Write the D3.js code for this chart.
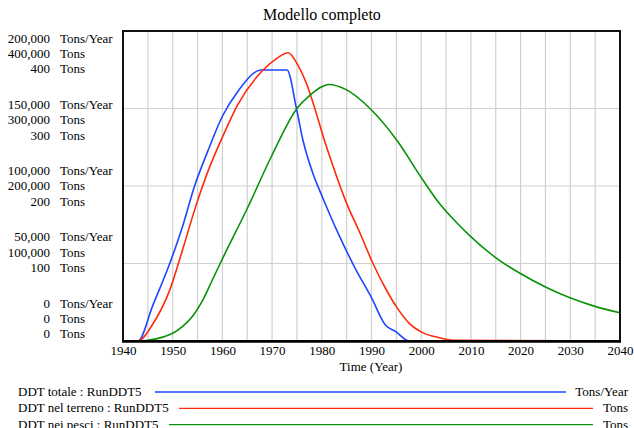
<!DOCTYPE html>
<html><head><meta charset="utf-8">
<script src="https://cdn.jsdelivr.net/npm/d3@7"></script>
<style>body{margin:0;background:#fff}svg{display:block}text{font-family:"Liberation Serif","Times New Roman",serif;fill:#000}</style>
</head><body><svg id="c" width="634" height="428"></svg>
<script>
const title = "Modello completo";
const xTicks = [1940,1950,1960,1970,1980,1990,2000,2010,2020,2030,2040];
const yLabelsTot = ["200,000","150,000","100,000","50,000","0"];
const yLabelsTer = ["400,000","300,000","200,000","100,000","0"];
const yLabelsPes = ["400","300","200","100","0"];

const yearsTot = [1940,1943,1946,1949.4,1952,1954.4,1957,1960,1963.1,1967.8,1973,1974.9,1976.2,1978.2,1980.1,1983.6,1986.9,1989.9,1992.8,1994.9,1997.6,2040];
const valTot   = [0,0,23000,50000,74000,100000,122000,145000,161000,174800,174800,150000,129700,108200,93100,67300,45800,28600,10300,6000,0,0];

const yearsTer = [1940,1943,1946,1949.3,1952,1954.7,1957.4,1960,1963.1,1967.8,1970.8,1973.2,1975.2,1976.9,1978.6,1980.3,1982.3,1985,1987.7,1990.3,1993,1995,1997.6,2000.3,2003.6,2007,2040];
const valTer   = [0,0,22000,64000,118000,175000,224000,263000,305000,347000,364000,372000,356000,332500,300000,263600,224900,177600,139000,100000,65800,44300,22800,10800,4300,800,0];

const yearsPes = [1940,1943,1945,1948,1950,1952,1954,1956,1958,1960,1965,1970,1975,1977.6,1980,1981.4,1985,1989.7,1995.1,2000.3,2003.6,2007.7,2009.6,2014.7,2019.7,2024.9,2029.8,2034.8,2040];
const valPes   = [0,0,1,5,10,19,32,52,79,106,171,240,300,317,328,331,324,300,259,208,178,149,137,109,88,70,56,45,36.5];

const legendNames = ["DDT totale : RunDDT5","DDT nel terreno : RunDDT5","DDT nei pesci : RunDDT5"];
const legendUnits = ["Tons/Year","Tons","Tons"];
const colors = ["#1e46ff","#ff2a0a","#089208"];

const svg = d3.select("#c");
const L=123, R=620, T=31, B=341;
const x = d3.scaleLinear().domain([1940,2040]).range([L,R]);
const yTot = d3.scaleLinear().domain([0,200000]).range([B,T]);
const yTer = d3.scaleLinear().domain([0,400000]).range([B,T]);
const yPes = d3.scaleLinear().domain([0,400]).range([B,T]);

svg.append("text").attr("x",322).attr("y",20).attr("text-anchor","middle").attr("font-size",16).text(title);

// grid
const g = svg.append("g");
g.selectAll("line.v").data(d3.range(1945,2040,5)).join("line")
 .attr("x1",d=>x(d)).attr("x2",d=>x(d)).attr("y1",T).attr("y2",B)
 .attr("stroke","#d0d0d0").attr("stroke-width",1.2);
g.selectAll("line.h").data([50000,100000,150000]).join("line")
 .attr("x1",L).attr("x2",R).attr("y1",d=>yTot(d)).attr("y2",d=>yTot(d))
 .attr("stroke","#d0d0d0").attr("stroke-width",1.2);

// lines
const series = [[yearsTot,valTot,yTot],[yearsTer,valTer,yTer],[yearsPes,valPes,yPes]];
series.forEach((s,i)=>{
  const pts = s[0].map((yr,j)=>[yr,s[1][j]]);
  const line = d3.line().x(d=>x(d[0])).y(d=>s[2](d[1])).curve(d3.curveMonotoneX);
  svg.append("path").attr("d",line(pts)).attr("fill","none").attr("stroke",colors[i]).attr("stroke-width",1.6);
});

// frame
svg.append("rect").attr("x",L).attr("y",T).attr("width",R-L).attr("height",B-T).attr("fill","none").attr("stroke","#111").attr("stroke-width",2);
svg.append("line").attr("x1",L-1).attr("x2",R+1).attr("y1",B+0.5).attr("y2",B+0.5).attr("stroke","#000").attr("stroke-width",2.5);

// y labels
const groupY = d3.scaleLinear().domain([0,4]).range([38,303]);
const sets = [yLabelsTot,yLabelsTer,yLabelsPes];
for(let k=0;k<5;k++){
  for(let j=0;j<3;j++){
    const yy = groupY(k)+j*15.4+4.5;
    svg.append("text").attr("x",50).attr("y",yy).attr("text-anchor","end").attr("font-size",13).text(sets[j][k]);
    svg.append("text").attr("x",60).attr("y",yy).attr("font-size",13).text(legendUnits[j]);
  }
}

// x axis
const xa = svg.append("g").attr("transform",`translate(0,${B+1})`)
 .call(d3.axisBottom(x).tickValues(xTicks).tickFormat(d3.format("d")).tickSize(0).tickPadding(4));
xa.select(".domain").remove();
xa.attr("font-family",null);
xa.selectAll("text").attr("font-size",13);
svg.append("text").attr("x",371).attr("y",371).attr("text-anchor","middle").attr("font-size",13).text("Time (Year)");

// legend
const lineStart=[155,179,169], lineEnd=[566,593,593];
legendNames.forEach((n,i)=>{
  const yy = 396+i*16.3;
  svg.append("text").attr("x",18).attr("y",yy).attr("font-size",13).text(n);
  svg.append("line").attr("x1",lineStart[i]).attr("x2",lineEnd[i]).attr("y1",yy-4).attr("y2",yy-4).attr("stroke",colors[i]).attr("stroke-width",1.3);
  svg.append("text").attr("x",628).attr("y",yy).attr("text-anchor","end").attr("font-size",13).text(legendUnits[i]);
});
</script></body></html>
